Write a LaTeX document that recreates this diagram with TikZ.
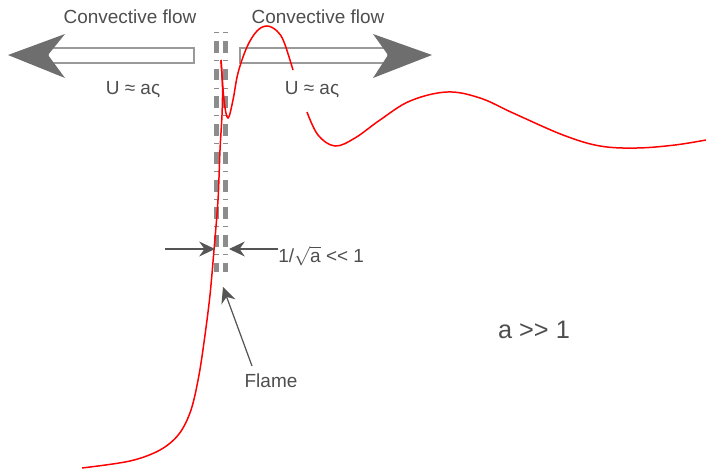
\documentclass[tikz,border=0pt]{standalone}
\usepackage{fontspec}
\setmainfont{Liberation Sans}
\usetikzlibrary{arrows.meta}

\definecolor{txtgray}{HTML}{4E4E4E}
\definecolor{headgray}{HTML}{6E6E6E}
\definecolor{shaftgray}{HTML}{9A9A9A}
\definecolor{stripgray}{HTML}{8C8C8C}
\definecolor{ptrgray}{HTML}{555555}

\tikzset{
  txt/.style={text=txtgray, inner sep=0pt, font=\fontsize{10.8}{13}\selectfont},
  bigtxt/.style={text=txtgray, inner sep=0pt, font=\fontsize{14.4}{17}\selectfont},
  curve/.style={red, line width=0.85pt},
  strip/.style={stripgray, line width=2.4pt, dash pattern=on 0.5pt off 4.5pt on 6.8pt off 4pt},
  ptr/.style={ptrgray, line width=0.7pt, -{Stealth[length=9pt, width=8.5pt, inset=3pt]}},
  shaft/.style={shaftgray, line width=0.6pt},
  head/.style={fill=headgray}
}

\begin{document}
\begin{tikzpicture}[x=0.02cm, y=-0.02cm]
  \useasboundingbox (0,0) rectangle (706,470);

  % convective flow arrows
  \draw[shaft] (48,48) rectangle (194,63);
  \fill[head] (8,55) -- (65,34) -- (48,55) -- (65,78) -- cycle;
  \draw[shaft] (240,48) rectangle (388,63);
  \fill[head] (432,55) -- (373,34) -- (388,55) -- (373,78) -- cycle;

  \node[txt] (flowleft) at (130,17) {Convective flow};
  \node[txt] (flowright) at (318,17) {Convective flow};
  \node[txt] (uleft) at (133,90) {U ≈ aς};
  \node[txt] (uright) at (312,90) {U ≈ aς};

  % flame sheet
  \draw[strip] (216.5,32) -- (216.5,272);
  \draw[strip] (225.5,32) -- (225.5,272);

  % red profiles
  \draw[curve] plot[smooth, tension=0.55] coordinates {(82,468) (130,461) (160,450) (179,434) (191,410) (199,375) (205,335) (210,295) (214,250) (218,200) (220,150) (222,115) (222.5,87) (221,60)};
  \draw[curve] plot[smooth, tension=0.6] coordinates {(221,60) (224,100) (228,118) (233,100) (238,73) (247,47) (257,31) (267,26) (277,31) (284,42) (293,70)};
  \draw[curve] plot[smooth, tension=0.6] coordinates {(307,112) (318,135) (335,146) (355,138) (380,120) (410,101) (447,92) (480,98) (513,113) (563,135) (600,146) (637,148) (675,145) (706,140)};

  % thickness arrows
  \coordinate (wtail) at (165,249);
  \coordinate (wleft) at (215,249);
  \coordinate (wright) at (229,249);
  \node[txt, anchor=west] (thick) at (278,256) {1/$\sqrt{\mbox{a}}$ \mbox{<}\mbox{<} 1};
  \draw[ptr] (wtail) -- (wleft);
  \draw[ptr] (thick.west |- wright) -- (wright);

  % flame pointer
  \coordinate (flametip) at (223,287);
  \node[txt] (flame) at (271,381) {Flame};
  \draw[ptr] (252,366) -- (flametip);

  \node[bigtxt] (alarge) at (534,330) {a \mbox{>}\mbox{>} 1};
\end{tikzpicture}
\end{document}
